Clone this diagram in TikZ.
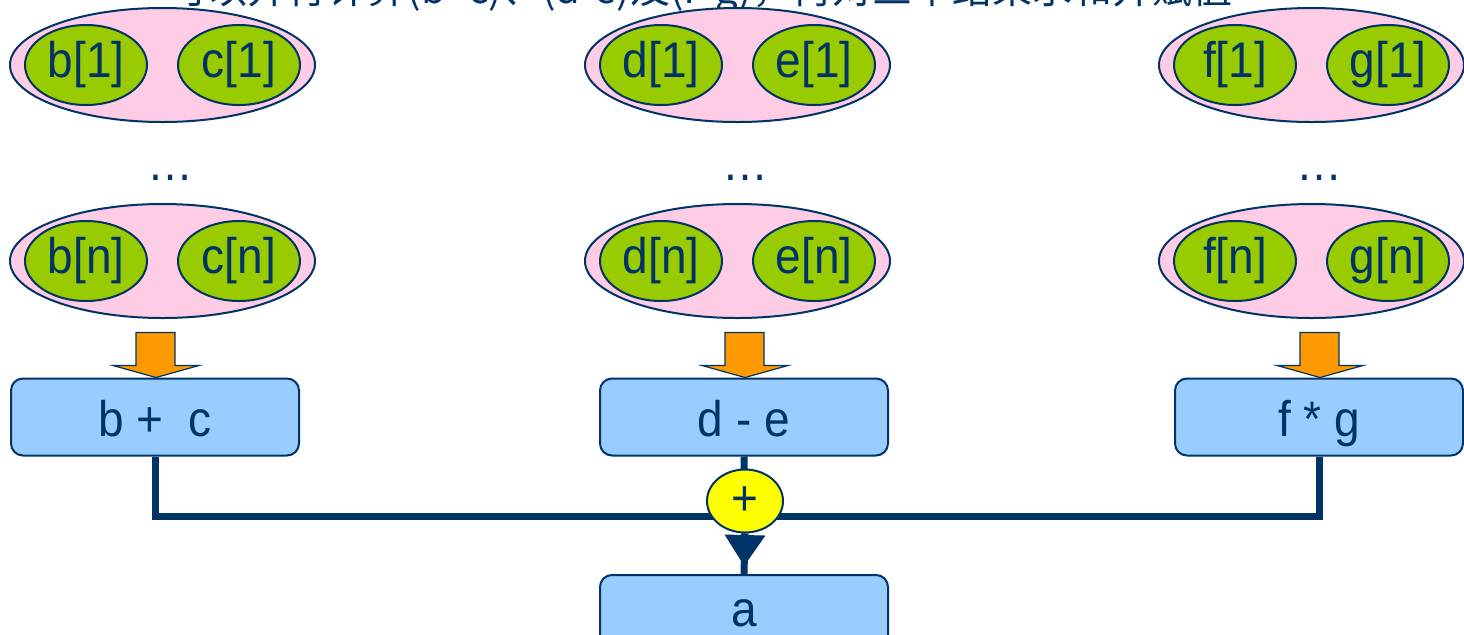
\documentclass[tikz,border=0pt]{standalone}
\usepackage{fontspec}
\setmainfont[FakeStretch=0.92]{Liberation Sans}
\newfontfamily\cjkfont{Noto Sans CJK SC}
\usetikzlibrary{shapes.geometric,arrows.meta}
\definecolor{navy}{HTML}{003366}
\definecolor{pinkfill}{HTML}{FFCCE5}
\definecolor{greenfill}{HTML}{99CC00}
\definecolor{boxfill}{HTML}{99CCFF}
\definecolor{orangefill}{HTML}{FF9900}
\definecolor{plusfill}{HTML}{FFFF00}
\begin{document}
\begin{tikzpicture}[x=0.5pt,y=-0.5pt,
  every node/.style={text=navy, font=\fontsize{25}{29}\selectfont},
  pairshell/.style={ellipse, draw=navy, line width=1pt, fill=pinkfill,
    minimum width=152.5pt, minimum height=57pt, inner sep=0pt},
  elem/.style={ellipse, draw=navy, line width=1pt, fill=greenfill,
    minimum width=61pt, minimum height=40pt, inner sep=0pt},
  opbox/.style={rectangle, rounded corners=6pt, draw=navy, line width=1pt,
    fill=boxfill, minimum width=144pt, minimum height=38.5pt, inner sep=0pt},
  opline/.style={text height=19pt, text depth=0pt},
  sumnode/.style={ellipse, draw=navy, line width=1pt, fill=plusfill,
    minimum width=38pt, minimum height=31.5pt, inner sep=0pt},
  wire/.style={draw=navy, line width=3.5pt},
  feed/.style={draw=navy, line width=0.6pt, fill=orangefill, line join=miter},
  dotsnode/.style={anchor=base, inner sep=0pt}
]
\useasboundingbox (0,0) rectangle (1464,634);
\clip (0,0) rectangle (1464,634);

% caption line running off the top edge
\node[anchor=base, inner sep=0pt, font=\cjkfont\fontsize{20}{24}\selectfont] (caption)
  at (700,3) {可以并行计算(b+c)、(d-e)及(f*g)，再对三个结果求和并赋值};

% operand pairs: first and last element of each stream
\foreach \cx/\l/\r/\nm in {162.5/b/c/bc, 737.5/d/e/de, 1311.5/f/g/fg} {
  \node[pairshell] (\nm top) at (\cx,65) {};
  \node[elem] (\nm top l) at (\cx-76.5,65) {\l[1]};
  \node[elem] (\nm top r) at (\cx+76.5,65) {\r[1]};
  \node[dotsnode] (\nm dots) at (\cx+8,180) {…};
  \node[pairshell] (\nm bot) at (\cx,261) {};
  \node[elem] (\nm bot l) at (\cx-76.5,261) {\l[n]};
  \node[elem] (\nm bot r) at (\cx+76.5,261) {\r[n]};
}

% operation boxes
\node[opbox, opline] (bc) at (155,417) {b +\ \ c};
\node[opbox, opline] (de) at (744,417) {d - e};
\node[opbox, opline] (fg) at (1319,417) {f * g};
\node[opbox] (a) at (744,613.5) {a};

% block arrows feeding each operation
\foreach \nm in {bc,de,fg} {
  \draw[feed] ([xshift=0.5pt]\nm.north) -- ++(43,-12) -- ++(-24,0) -- ++(0,-33)
    -- ++(-39,0) -- ++(0,33) -- ++(-23,0) -- cycle;
}

% summation wiring
\coordinate (join) at (745,516);
\draw[wire] (bc.south) |- (join) -| (fg.south);
\draw[wire] (de.south) -- (join);
\node[sumnode] (plus) at (745,501) {+};
\draw[wire] (plus.south) -- (a.north);
\draw[wire, -{Triangle[length=15.5pt,width=19.5pt]}, shorten >=4pt]
  (plus.south) -- (a.north);
\end{tikzpicture}
\end{document}
